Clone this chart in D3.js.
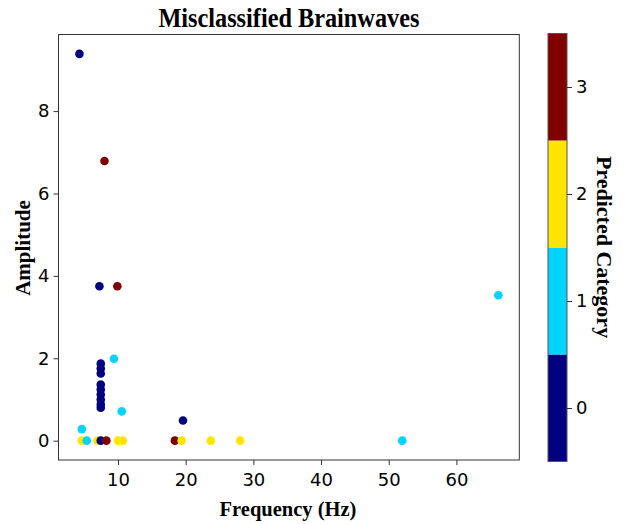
<!DOCTYPE html>
<html>
<head>
<meta charset="utf-8">
<script src="https://cdn.jsdelivr.net/npm/d3@7.9.0/dist/d3.min.js"></script>
<style>
  body { margin: 0; background: #fff; }
  svg { display: block; }
  .tick line { stroke: #333; }
  .label { font-family: "Liberation Serif", "Times New Roman", serif; font-weight: bold; fill: #000; }
</style>
</head>
<body>
<svg id="chart" width="623" height="524"></svg>
<script>
// misclassified points: frequency (Hz), amplitude, predicted category
const freq = [4.3, 8.0, 7.25, 9.9, 66.2, 9.4,
  7.45, 7.45, 7.45, 7.45, 7.45, 7.45, 7.45, 7.45, 7.45,
  10.55, 4.65, 19.6,
  4.65, 5.38, 6.96, 7.45, 8.28, 10.0, 10.7, 18.4, 19.4, 23.7, 28.05, 52.0];
const amp = [9.39, 6.79, 3.75, 3.75, 3.53, 1.99,
  1.87, 1.75, 1.63, 1.36, 1.24, 1.12, 1.0, 0.88, 0.8,
  0.71, 0.28, 0.49,
  0, 0, 0, 0, 0, 0, 0, 0, 0, 0, 0, 0];
const predicted = [0, 3, 0, 3, 1, 1,
  0, 0, 0, 0, 0, 0, 0, 0, 0,
  1, 1, 0,
  2, 1, 2, 0, 3, 2, 2, 3, 2, 2, 2, 1];

const categories = [0, 1, 2, 3];
const catColors = ['#000080', '#00d4ff', '#ffe500', '#800000'];
const xTicks = [10, 20, 30, 40, 50, 60];
const yTicks = [0, 2, 4, 6, 8];

const svg = d3.select('#chart');
const plotLeft = 58.5, plotTop = 34.5, plotRight = 519.3, plotBottom = 460;

// matplotlib-style 5% margins
function padded(vals) {
  let [lo, hi] = d3.extent(vals);
  let m = (hi - lo) * 0.05;
  return [lo - m, hi + m];
}

const x = d3.scaleLinear().domain(padded(freq)).range([plotLeft, plotRight]);
const y = d3.scaleLinear().domain(padded(amp)).range([plotBottom, plotTop]);
const color = d3.scaleOrdinal().domain(categories).range(catColors);

let data = freq.map((f, i) => ({ f: f, a: amp[i], c: predicted[i] }));

svg.append('g')
  .selectAll('circle')
  .data(data)
  .join('circle')
  .attr('cx', (d) => x(d.f))
  .attr('cy', (d) => y(d.a))
  .attr('r', 4.3)
  .attr('fill', (d) => color(d.c));

function styleAxis(g) {
  g.attr('font-family', '"DejaVu Sans", sans-serif').attr('font-size', 18);
  g.select('.domain').remove();
  g.selectAll('.tick text').attr('fill', '#000');
}

// axes
svg.append('g')
  .attr('transform', `translate(0,${plotBottom})`)
  .call(d3.axisBottom(x).tickValues(xTicks).tickSize(5).tickPadding(8))
  .call(styleAxis);
svg.append('g')
  .attr('transform', `translate(${plotLeft},0)`)
  .call(d3.axisLeft(y).tickValues(yTicks).tickSize(5).tickPadding(4))
  .call(styleAxis);

svg.append('rect')
  .attr('x', plotLeft).attr('y', plotTop)
  .attr('width', plotRight - plotLeft).attr('height', plotBottom - plotTop)
  .attr('fill', 'none').attr('stroke', '#333').attr('stroke-width', 1);

// colorbar
const cbLeft = 548, cbWidth = 19;
const cb = d3.scaleLinear().domain([-0.5, 3.5]).range([461.5, 33.5]);
svg.append('g')
  .selectAll('rect')
  .data(categories)
  .join('rect')
  .attr('x', cbLeft)
  .attr('y', (d) => cb(d + 0.5))
  .attr('width', cbWidth)
  .attr('height', (d) => cb(d - 0.5) - cb(d + 0.5))
  .attr('fill', (d) => color(d));
svg.append('rect')
  .attr('x', cbLeft).attr('y', cb(3.5))
  .attr('width', cbWidth).attr('height', cb(-0.5) - cb(3.5))
  .attr('fill', 'none').attr('stroke', '#555').attr('stroke-width', 1);
svg.append('g')
  .attr('transform', `translate(${cbLeft + cbWidth},0)`)
  .call(d3.axisRight(cb).tickValues(categories).tickFormat(d3.format('d')).tickSize(5).tickPadding(4))
  .call(styleAxis);

// texts
svg.append('text')
  .attr('class', 'label')
  .attr('x', (plotLeft + plotRight) / 2).attr('y', 26.5)
  .attr('text-anchor', 'middle')
  .attr('font-size', 28)
  .attr('textLength', 261)
  .attr('lengthAdjust', 'spacingAndGlyphs')
  .text('Misclassified Brainwaves');

svg.append('text')
  .attr('class', 'label')
  .attr('x', 288).attr('y', 516)
  .attr('text-anchor', 'middle')
  .attr('font-size', 20.5)
  .text('Frequency (Hz)');

svg.append('text')
  .attr('class', 'label')
  .attr('transform', 'translate(30,248) rotate(-90)')
  .attr('text-anchor', 'middle')
  .attr('font-size', 21)
  .text('Amplitude');

svg.append('text')
  .attr('class', 'label')
  .attr('transform', 'translate(597,247) rotate(90)')
  .attr('text-anchor', 'middle')
  .attr('font-size', 22)
  .text('Predicted Category');
</script>
</body>
</html>
